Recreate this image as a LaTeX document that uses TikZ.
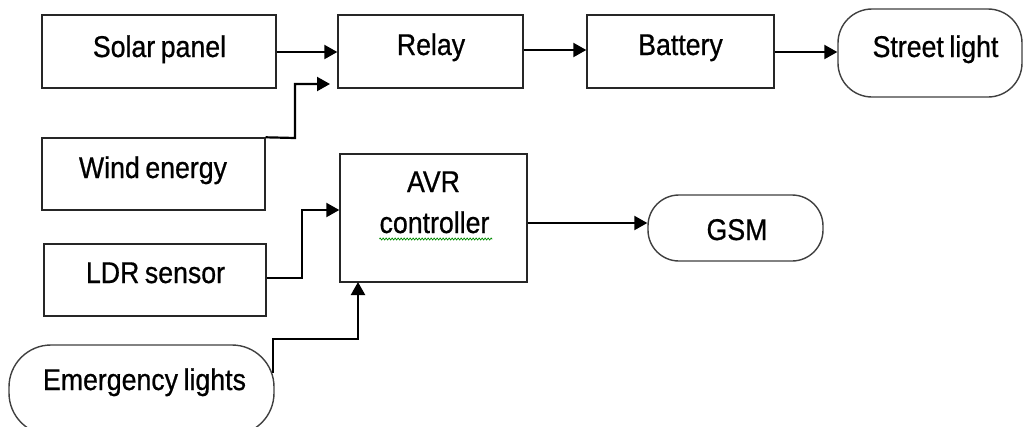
\documentclass[tikz,border=0pt]{standalone}
\usepackage{fontspec}
\setmainfont{Liberation Sans}[FakeStretch=0.89, WordSpace=0.75, FakeBold=0.7]
\usetikzlibrary{arrows.meta,calc,decorations.pathmorphing}
\begin{document}
\begin{tikzpicture}[x=1pt,y=-1pt,
  box/.style={draw=black!85, line width=1.4pt, inner sep=0pt},
  rbox/.style={box, draw=black!75, rounded corners=34pt},
  txt/.style={inner sep=0pt, anchor=base, font=\fontsize{30}{36}\selectfont},
  conn/.style={line width=2.2pt, -{Triangle[length=13pt,width=14pt]}},
]
\useasboundingbox (0,0) rectangle (1025,426);
\clip (0,0) rectangle (1025,426);
\fill[white] (0,0) rectangle (1025,426);

% boxes
\node[box, minimum width=234pt, minimum height=73pt] (solar) at (159,51.5) {};
\node[box, minimum width=185pt, minimum height=73pt] (relay) at (430.5,51.5) {};
\node[box, minimum width=187pt, minimum height=73pt] (battery) at (680.5,51.5) {};
\node[rbox, minimum width=184pt, minimum height=88pt] (street) at (930,53) {};
\node[box, minimum width=223pt, minimum height=72pt] (wind) at (153.5,174) {};
\node[box, minimum width=187pt, minimum height=128pt] (avr) at (433.5,218) {};
\node[box, minimum width=222pt, minimum height=72pt] (ldr) at (155,280) {};
\node[rbox, rounded corners=31pt, minimum width=175pt, minimum height=66pt] (gsm) at (735.5,228) {};
\node[rbox, rounded corners=42pt, minimum width=265pt, minimum height=90pt] (emer) at (141.5,390) {};

% texts
\node[txt] (solarT) at (159.5,57) {Solar panel};
\node[txt] (relayT) at (431,55) {Relay};
\node[txt] (batteryT) at (680.5,55) {Battery};
\node[txt] (streetT) at (935.5,57) {Street light};
\node[txt] (windT) at (153,178) {Wind energy};
\node[txt] (avrT) at (433.5,192) {AVR};
\node[txt] (ctrlT) at (434.5,233) {controller};
\node[txt] (ldrT) at (155.5,283) {LDR sensor};
\node[txt] (gsmT) at (737,240) {GSM};
\node[txt] (emerT) at (144.5,390) {Emergency lights};

% spell-check underline
\draw[green!55!black, line width=0.7pt, decorate,
  decoration={zigzag, amplitude=1pt, segment length=3pt}] (ctrlT.base west) ++(0,6) -- ++(113,0);

% connectors
\draw[conn] (solar.east |- 0,52) -- (relay.west |- 0,52);
\draw[conn] (relay.east |- 0,50) -- (battery.west |- 0,50);
\draw[conn] (battery.east |- 0,52) -- (street.west |- 0,52);
\coordinate (windIn) at (330,84);
\draw[conn] (wind.north east) -- (295,138) |- (windIn);
\draw[conn] (ldr.east |- 0,278) -- (302,278) |- (avr.west |- 0,210);
\coordinate (eUp) at (273,373);
\draw[conn] (eUp) |- (358,339) -- (358,282);
\draw[conn] (avr.east |- 0,223) -- (gsm.west |- 0,223);
\end{tikzpicture}
\end{document}
